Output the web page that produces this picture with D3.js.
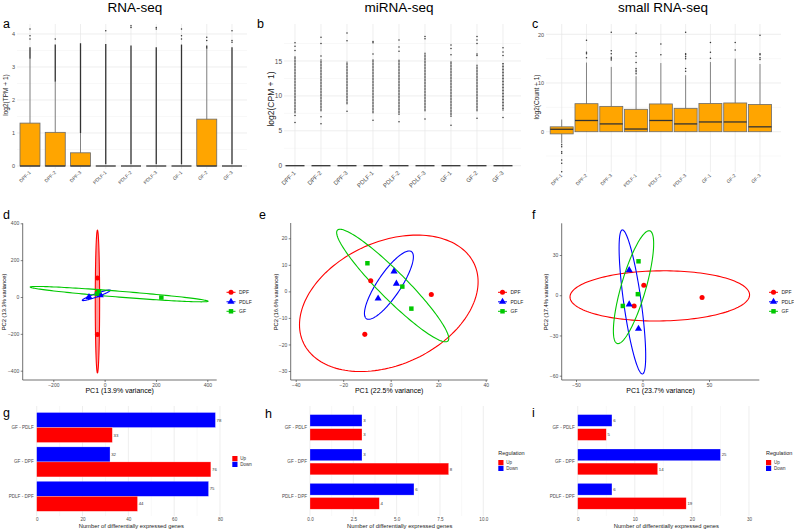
<!DOCTYPE html>
<html>
<head>
<meta charset="utf-8">
<script src="https://cdn.jsdelivr.net/npm/d3@7"></script>
<style>
  body { margin: 0; background: #fff; }
  text { font-family: "Liberation Sans", Arial, sans-serif; }
</style>
</head>
<body>
<svg id="chart" width="794" height="530"></svg>
<script>
var samples = ["DPF-1", "DPF-2", "DPF-3", "PDLF-1", "PDLF-2", "PDLF-3", "GF-1", "GF-2", "GF-3"];

// a: RNA-seq log2(TPM + 1)
var rnaQ3 = [1.3, 1.02, 0.4, 0, 0, 0, 0, 1.42, 0];
var rnaWhiskerHi = [3.25, 2.55, 1.0, 0, 0, 0, 0, 3.55, 0];
var rnaDenseLo = [3.25, 2.55, 1.0, 0.05, 0.05, 0.05, 0.05, 3.55, 0.05];
var rnaDenseHi = [3.6, 3.68, 3.72, 3.7, 3.65, 3.6, 3.68, 3.65, 3.6];
var rnaOutliers = [[3.85, 3.95, 4.15], [3.85], [], [4.1], [4.2, 4.25], [4.15, 4.2], [3.85, 3.95, 4.15], [3.8, 3.9], [3.75, 3.8, 4.1]];

// b: miRNA-seq log2(CPM + 1), boxes all collapsed at 0
var mirDenseLo = [7.5, 7.8, 8.8, 7.5, 7.3, 7.8, 7.0, 7.8, 7.9];
var mirDenseHi = [15.7, 15.2, 14.9, 15.3, 15.2, 16.2, 15.0, 14.5, 14.8];
var mirOutliers = [[6.2, 7.2, 16.5, 17.1, 17.6], [6.0, 7.0, 15.7, 17.5, 18.4], [7.8, 17.9, 19.0], [6.5, 16.0, 17.6, 17.8],
  [6.3, 16.4, 17.0, 18.0], [6.7, 18.2, 18.5], [5.8, 15.9, 16.8, 17.3], [6.8, 15.8, 16.0, 17.5, 18.0, 18.5], [6.9, 15.8, 16.3, 16.9]];

// c: small RNA-seq log2(Count + 1)
var smallQ1 = [-0.45, 0, 0, 0, 0, 0, 0, 0, 0];
var smallMedian = [0.5, 2.3, 1.6, 0.55, 2.3, 1.6, 2.0, 2.0, 1.0];
var smallQ3 = [1.0, 5.75, 5.2, 4.6, 5.7, 4.8, 5.8, 5.9, 5.6];
var smallWhiskerLo = [-2.4, 0, 0, 0, 0, 0, 0, 0, 0];
var smallWhiskerHi = [2.5, 14.2, 13.3, 11.4, 14.1, 11.6, 14.3, 15.0, 13.9];
var smallOutliers = [[-2.7, -3.1, -4.1, -4.4, -5.8, -6.5, -8.2], [15.2, 16.0, 16.3, 18.8], [14.7, 15.0, 15.3, 16.0, 16.6, 20.4],
  [11.9, 12.3, 12.6, 13.0, 14.2, 15.5, 16.2, 20.2], [15.8, 18.0], [12.4, 13.0, 15.0, 15.4, 15.8, 16.0, 20.4],
  [15.1, 16.3, 18.3], [16.8, 18.3], [14.8, 15.2, 15.8, 16.0, 19.8]];

// PCA points [PC1, PC2]
var groups = ["DPF", "PDLF", "GF"];
var groupColors = ["#ff0000", "#0000ff", "#00c800"];
var pcaD_DPF = [[-28, 103.5], [-28, -203], [-28, 26]];
var pcaD_PDLF = [[-61, 0], [-19.5, 18.5], [-17, 9.4]];
var pcaD_GF = [[-22, 31], [221, -3], [-29.5, 18.5]];
var pcaE_DPF = [[-8.4, 4], [17.1, -1.2], [-10.9, -16.2]];
var pcaE_PDLF = [[1.4, 7.5], [2.4, 2.9], [-5.3, -2.7]];
var pcaE_GF = [[-9.8, 10.6], [4.9, 1.8], [8.7, -6.5]];
var pcaF_DPF = [[1, 7.5], [-6.3, -8], [44.8, -1.7]];
var pcaF_PDLF = [[-10, 18.7], [-10, -6.8], [-3, -25]];
var pcaF_GF = [[-3, 25.3], [-3.5, 0.8], [-14.8, -8]];
// ellipses: [cx, cy, ux, uy, vx, vy] (centre and two conjugate semi-axes)
var ellD = [[-28, -24.5, 0, 387.5, 8.5, 0], [-32.5, 9.3, 54.5, 27.4, 2, -9], [56.5, 15.5, 346.5, -38.5, 0, 16]];
var ellE = [[-0.8, -4.5, 37.6, 8.1, 0, 24.4], [-0.75, 2.35, 9.45, 12.65, 4.1, -2.4], [0.85, 2.2, 23.25, -20.9, 4.1, 3.6]];
var ellF = [[13, -0.5, 67.5, 0.8, 0, 18.7], [-7.6, -5, 7.6, -53.7, 6.5, 0.9], [-6.75, 6, 12.25, 42, 8.9, -2.6]];

// differential expression counts
var contrasts = ["GF - PDLF", "GF - DPF", "PDLF - DPF"];
var gUp = [33, 76, 44], gDown = [78, 32, 75];
var hUp = [3, 8, 4], hDown = [3, 3, 6];
var iUp = [5, 14, 19], iDown = [6, 25, 6];

var svg = d3.select("#chart");
var GRID = "#e6e6e6", GRID_MINOR = "#f1f1f1", TICK_TXT = "#4d4d4d";

function text(x, y, s, size, opts) {
  opts = opts || {};
  var t = svg.append("text").attr("x", x).attr("y", y).text(s)
    .attr("font-size", size).attr("fill", opts.fill || "#000")
    .attr("text-anchor", opts.anchor || "start");
  if (opts.rotate) t.attr("transform", "rotate(-90," + x + "," + y + ")");
  return t;
}

// titles and panel letters
text(135, 11.5, "RNA-seq", 13.5, {anchor: "middle"});
text(399, 11.5, "miRNA-seq", 13.5, {anchor: "middle"});
text(663, 11.5, "small RNA-seq", 13.5, {anchor: "middle"});
[["a", 3, 28], ["b", 257, 28], ["c", 532, 28], ["d", 3, 219], ["e", 259, 219], ["f", 532, 219],
 ["g", 3, 417], ["h", 265, 418], ["i", 532, 417]].forEach(function(l) { text(l[1], l[2], l[0], 12.5); });

// ---------- box panels ----------
function boxPanel(cfg) {
  var g = svg.append("g");
  var x = d3.scalePoint(samples, cfg.xRange);
  var y = d3.scaleLinear(cfg.yDomain, cfg.yRange);
  var top = cfg.top, bottom = cfg.bottom;
  cfg.minor.forEach(function(v) {
    g.append("line").attr("x1", cfg.gridX[0]).attr("x2", cfg.gridX[1]).attr("y1", y(v)).attr("y2", y(v))
      .attr("stroke", GRID_MINOR).attr("stroke-width", 0.5);
  });
  cfg.major.forEach(function(v) {
    g.append("line").attr("x1", cfg.gridX[0]).attr("x2", cfg.gridX[1]).attr("y1", y(v)).attr("y2", y(v))
      .attr("stroke", GRID).attr("stroke-width", 0.7);
  });
  samples.forEach(function(s) {
    g.append("line").attr("x1", x(s)).attr("x2", x(s)).attr("y1", top).attr("y2", bottom)
      .attr("stroke", GRID).attr("stroke-width", 0.7);
  });

  var ya = d3.axisLeft(y).tickValues(cfg.major).tickSize(0).tickPadding(2).tickFormat(d3.format("d"));
  g.append("g").attr("transform", "translate(" + cfg.gridX[0] + ",0)").call(ya)
    .call(function(a) { a.select(".domain").remove(); })
    .selectAll("text").attr("font-size", cfg.tickSize).attr("fill", TICK_TXT).attr("font-family", null);

  var xa = d3.axisBottom(x).tickSize(0).tickPadding(0);
  g.append("g").attr("transform", "translate(0," + (bottom + 2) + ")").call(xa)
    .call(function(a) { a.select(".domain").remove(); })
    .selectAll("text").attr("font-size", cfg.xTickSize).attr("fill", TICK_TXT).attr("font-family", null)
    .attr("dy", "0.35em").attr("dx", "-0.2em").attr("transform", "rotate(-45)").style("text-anchor", "end");

  text(cfg.titleX, cfg.titleY, cfg.title, cfg.titleSize, {anchor: "middle", rotate: true, fill: "#222"});

  var w = cfg.boxW;
  samples.forEach(function(s, i) {
    var cx = x(s);
    if (cfg.dense) {
      g.append("line").attr("x1", cx).attr("x2", cx).attr("y1", y(cfg.dense[0][i])).attr("y2", y(cfg.dense[1][i]))
        .attr("stroke", "#333").attr("stroke-width", cfg.denseWidth).attr("stroke-dasharray", cfg.denseDash);
    }
    cfg.outliers[i].forEach(function(v) {
      g.append("circle").attr("cx", cx).attr("cy", y(v)).attr("r", 0.75).attr("fill", "#333");
    });
    g.append("line").attr("x1", cx).attr("x2", cx).attr("y1", y(cfg.whiskLo[i])).attr("y2", y(cfg.whiskHi[i]))
      .attr("stroke", "#555").attr("stroke-width", 0.7);
    if (cfg.q3[i] > cfg.q1[i]) {
      g.append("rect").attr("x", cx - w / 2).attr("width", w).attr("y", y(cfg.q3[i]))
        .attr("height", y(cfg.q1[i]) - y(cfg.q3[i])).attr("fill", "#ffa500").attr("stroke", "#6b6b6b").attr("stroke-width", 0.8);
    }
    g.append("line").attr("x1", cx - w / 2).attr("x2", cx + w / 2).attr("y1", y(cfg.med[i])).attr("y2", y(cfg.med[i]))
      .attr("stroke", "#333").attr("stroke-width", 1.3);
  });
}

var zeros = samples.map(function() { return 0; });

boxPanel({
  xRange: [30, 232], yDomain: [0, 4], yRange: [166, 34], top: 24, bottom: 169, gridX: [17, 247],
  major: [0, 1, 2, 3, 4], minor: [0.5, 1.5, 2.5, 3.5], tickSize: 5.5, xTickSize: 4.8,
  title: "log2(TPM + 1)", titleX: 8, titleY: 95, titleSize: 6.5,
  q1: zeros, med: zeros, q3: rnaQ3, whiskLo: zeros, whiskHi: rnaWhiskerHi,
  dense: [rnaDenseLo, rnaDenseHi], denseWidth: 1.3, denseDash: null, outliers: rnaOutliers, boxW: 20
});

boxPanel({
  xRange: [295, 503], yDomain: [0, 15], yRange: [165.7, 61], top: 24, bottom: 169, gridX: [284, 521],
  major: [0, 5, 10, 15], minor: [2.5, 7.5, 12.5, 17.5], tickSize: 6.5, xTickSize: 6,
  title: "log2(CPM + 1)", titleX: 274, titleY: 99, titleSize: 8.5,
  q1: zeros, med: zeros, q3: zeros, whiskLo: zeros, whiskHi: zeros,
  dense: [mirDenseLo, mirDenseHi], denseWidth: 1.4, denseDash: "1,0.5", outliers: mirOutliers, boxW: 19
});

boxPanel({
  xRange: [561.7, 760], yDomain: [0, 20], yRange: [131.7, 34.3], top: 24, bottom: 172, gridX: [546, 781],
  major: [0, 10, 20], minor: [-5, 5, 15], tickSize: 5.5, xTickSize: 4.8,
  title: "log2(Count + 1)", titleX: 539, titleY: 97, titleSize: 6.5,
  q1: smallQ1, med: smallMedian, q3: smallQ3, whiskLo: smallWhiskerLo, whiskHi: smallWhiskerHi,
  dense: null, outliers: smallOutliers, boxW: 23
});

// ---------- PCA panels ----------
var symbols = [d3.symbolCircle, d3.symbolTriangle, d3.symbolSquare];
var symbolSizes = [20, 22, 20];

function pcaPanel(cfg) {
  var g = svg.append("g");
  var x = d3.scaleLinear(cfg.xDomain, cfg.xRange);
  var y = d3.scaleLinear(cfg.yDomain, cfg.yRange);
  var L = cfg.frame[0], R = cfg.frame[1], T = cfg.frame[2], B = cfg.frame[3];

  var ya = d3.axisLeft(y).tickValues(cfg.yTicks).tickSize(2).tickPadding(1.5);
  var ay = g.append("g").attr("transform", "translate(" + L + ",0)").call(ya);
  ay.select(".domain").attr("d", "M0," + T + "V" + B).attr("stroke", "#333").attr("stroke-width", 0.7);
  var xa = d3.axisBottom(x).tickValues(cfg.xTicks).tickSize(2).tickPadding(1.5);
  var ax = g.append("g").attr("transform", "translate(0," + B + ")").call(xa);
  ax.select(".domain").attr("d", "M" + L + ",0H" + R).attr("stroke", "#333").attr("stroke-width", 0.7);
  g.selectAll(".tick line").attr("stroke", "#333").attr("stroke-width", 0.6);
  g.selectAll(".tick text").attr("font-size", 5).attr("fill", TICK_TXT).attr("font-family", null);

  text((L + R) / 2, 393, cfg.xTitle, 7, {anchor: "middle"});
  text(cfg.yTitleX, 302, cfg.yTitle, 5.8, {anchor: "middle", rotate: true});

  var line = d3.line().curve(d3.curveLinearClosed);
  cfg.ellipses.forEach(function(e, k) {
    var pts = d3.range(0, 160).map(function(j) {
      var t = j / 160 * 2 * Math.PI;
      return [x(e[0] + e[2] * Math.cos(t) + e[4] * Math.sin(t)), y(e[1] + e[3] * Math.cos(t) + e[5] * Math.sin(t))];
    });
    g.append("path").attr("d", line(pts)).attr("fill", cfg.fillFirst && k === 0 ? "rgba(255,0,0,0.4)" : "none")
      .attr("stroke", groupColors[k]).attr("stroke-width", 1.1);
  });

  cfg.points.forEach(function(pts, k) {
    pts.forEach(function(p) {
      g.append("path").attr("d", d3.symbol(symbols[k], symbolSizes[k])())
        .attr("transform", "translate(" + x(p[0]) + "," + y(p[1]) + ")").attr("fill", groupColors[k]);
    });
  });

  groups.forEach(function(name, k) {
    var ly = 292.3 + k * 9.5;
    g.append("line").attr("x1", cfg.legendX - 4.5).attr("x2", cfg.legendX + 4.5).attr("y1", ly).attr("y2", ly)
      .attr("stroke", groupColors[k]).attr("stroke-width", 1);
    g.append("path").attr("d", d3.symbol(symbols[k], symbolSizes[k])())
      .attr("transform", "translate(" + cfg.legendX + "," + ly + ")").attr("fill", groupColors[k]);
    text(cfg.legendX + 8, ly + 1.8, name, 5, {fill: "#222"});
  });
}

pcaPanel({
  xDomain: [-200, 400], xRange: [53.3, 207.3], yDomain: [-400, 400], yRange: [370.7, 223.3],
  frame: [22.7, 216.7, 223.3, 380], xTicks: [-200, 0, 200, 400], yTicks: [-400, -200, 0, 200, 400],
  xTitle: "PC1 (13.9% variance)", yTitle: "PC2 (13.3% variance)", yTitleX: 6,
  ellipses: ellD, points: [pcaD_DPF, pcaD_PDLF, pcaD_GF], legendX: 231, fillFirst: true
});
pcaPanel({
  xDomain: [-40, 40], xRange: [295.7, 485.7], yDomain: [-30, 20], yRange: [371, 238.3],
  frame: [290.7, 487.7, 223, 380], xTicks: [-40, -20, 0, 20, 40], yTicks: [-30, -20, -10, 0, 10, 20],
  xTitle: "PC1 (22.5% variance)", yTitle: "PC2 (16.6% variance)", yTitleX: 278,
  ellipses: ellE, points: [pcaE_DPF, pcaE_PDLF, pcaE_GF], legendX: 502.5
});
pcaPanel({
  xDomain: [-50, 50], xRange: [576, 709], yDomain: [-60, 30], yRange: [375.7, 255],
  frame: [561.7, 759.3, 223.3, 380], xTicks: [-50, 0, 50], yTicks: [-60, -30, 0, 30],
  xTitle: "PC1 (23.7% variance)", yTitle: "PC2 (17.4% variance)", yTitleX: 548,
  ellipses: ellF, points: [pcaF_DPF, pcaF_PDLF, pcaF_GF], legendX: 773.5
});

// ---------- DEG bar panels ----------
function barPanel(cfg) {
  var g = svg.append("g");
  var x = d3.scaleLinear(cfg.xDomain, cfg.xRange);
  var y = d3.scaleBand(contrasts, [410.3, 513.5]);
  var T = 406, B = 516;
  cfg.minor.forEach(function(v) {
    g.append("line").attr("x1", x(v)).attr("x2", x(v)).attr("y1", T).attr("y2", B).attr("stroke", GRID_MINOR).attr("stroke-width", 0.5);
  });
  cfg.ticks.forEach(function(v) {
    g.append("line").attr("x1", x(v)).attr("x2", x(v)).attr("y1", T).attr("y2", B).attr("stroke", GRID).attr("stroke-width", 0.7);
  });

  var xa = d3.axisBottom(x).tickValues(cfg.ticks).tickSize(0).tickPadding(2).tickFormat(cfg.fmt);
  g.append("g").attr("transform", "translate(0,516)").call(xa)
    .call(function(a) { a.select(".domain").remove(); })
    .selectAll("text").attr("font-size", 4.6).attr("fill", TICK_TXT).attr("font-family", null);
  var yaxis = d3.axisLeft(y).tickSize(0).tickPadding(3);
  g.append("g").attr("transform", "translate(" + cfg.xRange[0] + ",0)").call(yaxis)
    .call(function(a) { a.select(".domain").remove(); })
    .selectAll("text").attr("font-size", 4.6).attr("fill", TICK_TXT).attr("font-family", null);

  text((cfg.xRange[0] + cfg.xRange[1]) / 2 + 3, 527.5, "Number of differentially expressed genes", 5.8, {anchor: "middle", fill: "#222"});

  var series = [{vals: cfg.down, color: "#0000ff", off: -cfg.off - cfg.h}, {vals: cfg.up, color: "#ff0000", off: cfg.off}];
  contrasts.forEach(function(c, i) {
    var mid = y(c) + y.bandwidth() / 2;
    series.forEach(function(s) {
      g.append("rect").attr("x", x(0)).attr("width", x(s.vals[i]) - x(0)).attr("y", mid + s.off).attr("height", cfg.h)
        .attr("fill", s.color).attr("stroke", "#fff").attr("stroke-opacity", 0.5).attr("stroke-width", 0.5);
      text(x(s.vals[i]) + 1.2, mid + s.off + cfg.h / 2 + 1.6, String(s.vals[i]), 4.3, {fill: "#333"});
    });
  });

  var ly = cfg.legendY;
  if (cfg.legendTitle) text(cfg.legendX, ly - 5, "Regulation", 5.5, {fill: "#222"});
  [["Up", "#ff0000"], ["Down", "#0000ff"]].forEach(function(d, k) {
    g.append("rect").attr("x", cfg.legendX).attr("y", ly + k * 5.8).attr("width", 5.2).attr("height", 5.2).attr("fill", d[1]);
    text(cfg.legendX + 8, ly + k * 5.8 + 4, d[0], 4.5, {fill: "#333"});
  });
}

barPanel({
  xDomain: [0, 80], xRange: [36.7, 220], ticks: [0, 20, 40, 60, 80], minor: [10, 30, 50, 70], fmt: d3.format("d"),
  up: gUp, down: gDown, h: 15, off: 0, legendX: 232.3, legendY: 456, legendTitle: false
});
barPanel({
  xDomain: [0, 10], xRange: [310, 483.3], ticks: [0, 2.5, 5, 7.5, 10], minor: [1.25, 3.75, 6.25, 8.75], fmt: d3.format(".1f"),
  up: hUp, down: hDown, h: 11.7, off: 1.2, legendX: 498.3, legendY: 460, legendTitle: true
});
barPanel({
  xDomain: [0, 30], xRange: [577.7, 749], ticks: [0, 10, 20, 30], minor: [5, 15, 25], fmt: d3.format("d"),
  up: iUp, down: iDown, h: 11.7, off: 1.2, legendX: 766, legendY: 460, legendTitle: true
});
</script>
</body>
</html>
